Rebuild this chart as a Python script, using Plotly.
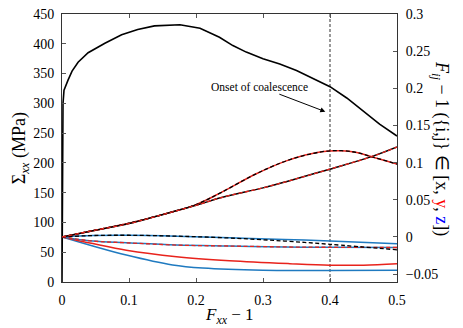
import plotly.graph_objects as go

# ---------------- data ----------------
# macroscopic stress Sigma_xx (MPa) vs F_xx - 1 (left axis)
strain_s = [0, 0.0008, 0.0015, 0.003, 0.006, 0.009, 0.015, 0.024, 0.039, 0.064, 0.089, 0.113,
            0.138, 0.163, 0.176, 0.206, 0.235, 0.255, 0.275, 0.300, 0.325, 0.350, 0.375,
            0.400, 0.425, 0.449, 0.474, 0.500]
sigma_xx = [0, 200, 300, 322, 331, 339, 354, 369, 385, 401, 415, 424,
            430, 432, 432, 426, 411, 397, 386, 375, 366, 355, 342,
            328, 309, 287, 265, 245]

# local deformation gradient components F_ij - 1 (right axis)
x_a = [0, 0.046, 0.1, 0.15, 0.2, 0.238, 0.29, 0.337, 0.387, 0.417, 0.44, 0.462, 0.5]
f_a = [0, 0.0084, 0.0185, 0.030, 0.0435, 0.060, 0.085, 0.103, 0.1145, 0.116, 0.1135, 0.108, 0.098]

x_b = [0, 0.046, 0.1, 0.138, 0.2, 0.238, 0.3, 0.337, 0.397, 0.462, 0.5]
f_b = [0, 0.0084, 0.018, 0.027, 0.0425, 0.053, 0.066, 0.075, 0.0905, 0.108, 0.121]

x_c = [0, 0.046, 0.1, 0.171, 0.25, 0.332, 0.4, 0.5]
f_c_solid = [0, 0.0018, 0.0022, 0.001, -0.0013, -0.0034, -0.0056, -0.0092]
f_c_dash = [0, 0.0018, 0.0022, 0.001, -0.0015, -0.0056, -0.010, -0.0174]

x_d = [0, 0.046, 0.096, 0.171, 0.25, 0.332, 0.4, 0.5]
f_d = [0, -0.0056, -0.0079, -0.011, -0.0123, -0.0135, -0.014, -0.0143]

x_e = [0, 0.046, 0.096, 0.171, 0.25, 0.34, 0.4, 0.45, 0.5]
f_e = [0, -0.009, -0.018, -0.0266, -0.032, -0.036, -0.038, -0.038, -0.0362]

x_f = [0, 0.046, 0.096, 0.165, 0.21, 0.3, 0.4, 0.5]
f_f = [0, -0.0122, -0.0245, -0.0378, -0.042, -0.045, -0.0452, -0.045]

onset_x = 0.4
x_ticks = [0, 0.1, 0.2, 0.3, 0.4, 0.5]
x_ticklabels = ["0", "0.1", "0.2", "0.3", "0.4", "0.5"]
y_ticks = [0, 50, 100, 150, 200, 250, 300, 350, 400, 450]
y2_ticks = [-0.05, 0, 0.05, 0.1, 0.15, 0.2, 0.25, 0.3]
y2_ticklabels = ["\u22120.05", "0", "0.05", "0.1", "0.15", "0.2", "0.25", "0.3"]

# ---------------- styles ----------------
RED = "#e8231c"
BLUE = "#1f7ac0"
BLACK = "#000000"
FONT = "Liberation Serif"
DASH = "4px,2.5px"

fig = go.Figure()

def line(x, y, color, axis, dash="solid", width=1.5, shape="spline"):
    fig.add_trace(go.Scatter(x=x, y=y, mode="lines", yaxis=axis,
                             line=dict(color=color, width=width, dash=dash, shape=shape),
                             hoverinfo="skip", showlegend=False))

# vertical onset line
line([onset_x, onset_x], [0, 450], "#555555", "y", dash="3px,2px", width=1.2, shape="linear")

# right-axis curves: solid first, dashed overlays after
line(x_f, f_f, BLUE, "y2")
line(x_e, f_e, RED, "y2")
line(x_d, f_d, BLUE, "y2")
line(x_c, f_c_solid, BLUE, "y2")
line(x_a, f_a, RED, "y2")
line(x_b, f_b, BLACK, "y2")
line(x_d, f_d, RED, "y2", dash=DASH, width=1.3)
line(x_c, f_c_dash, BLACK, "y2", dash=DASH, width=1.3)
line(x_a, f_a, BLACK, "y2", dash=DASH, width=1.3)
line(x_b, f_b, RED, "y2", dash=DASH, width=1.3)

# stress curve
line(strain_s, sigma_xx, BLACK, "y", width=1.6, shape="linear")

axis_common = dict(showline=True, linecolor="#333333", linewidth=1, ticks="inside",
                   ticklen=4, tickcolor="#555555", showgrid=False, zeroline=False,
                   ticklabeloverflow="allow",
                   tickfont=dict(family=FONT, size=14, color="black"))

fig.update_layout(
    width=463, height=328,
    margin=dict(l=62, r=66, t=7, b=46),
    paper_bgcolor="white", plot_bgcolor="white",
    xaxis=dict(range=[0, 0.5], tickvals=x_ticks, ticktext=x_ticklabels, mirror="ticks",
               ticklabelstandoff=5, **axis_common),
    yaxis=dict(range=[0, 450], tickvals=y_ticks, ticklabelstandoff=4, **axis_common),
    yaxis2=dict(range=[-0.0607, 0.3], overlaying="y", side="right", tickvals=y2_ticks,
                ticktext=y2_ticklabels, ticklabelstandoff=5, **axis_common),
    font=dict(family=FONT, color="black"),
)

# titles as annotations
fig.add_annotation(text="\u03a3<sub><i>xx</i></sub> (MPa)", xref="paper", yref="paper",
                   x=-0.165, y=0.5, textangle=-90, showarrow=False,
                   font=dict(family=FONT, size=18, color="black"))
fig.add_annotation(text="<i>F</i><sub><i>xx</i></sub> \u2212 1", xref="paper", yref="paper",
                   x=0.5, y=-0.127, showarrow=False, yanchor="middle",
                   font=dict(family=FONT, size=17, color="black"))
fig.add_annotation(text="<i>F</i><sub><i>ij</i></sub> \u2212 1 ({i,j} \u2208 [x, "
                        "<span style='color:#ff0000'>y</span>, "
                        "<span style='color:#0000ff'>z</span>])",
                   xref="paper", yref="paper", x=1.172, y=0.5, textangle=90,
                   showarrow=False, font=dict(family=FONT, size=18, color="black"))

# onset annotation with arrow
fig.add_annotation(text="Onset of coalescence", x=0.393, y=286, ax=0.295, ay=328,
                   xref="x", yref="y", axref="x", ayref="y", showarrow=True,
                   arrowhead=2, arrowsize=1, arrowwidth=1, arrowcolor="black",
                   font=dict(family=FONT, size=11.5, color="black"))

fig.write_html("out.html")
